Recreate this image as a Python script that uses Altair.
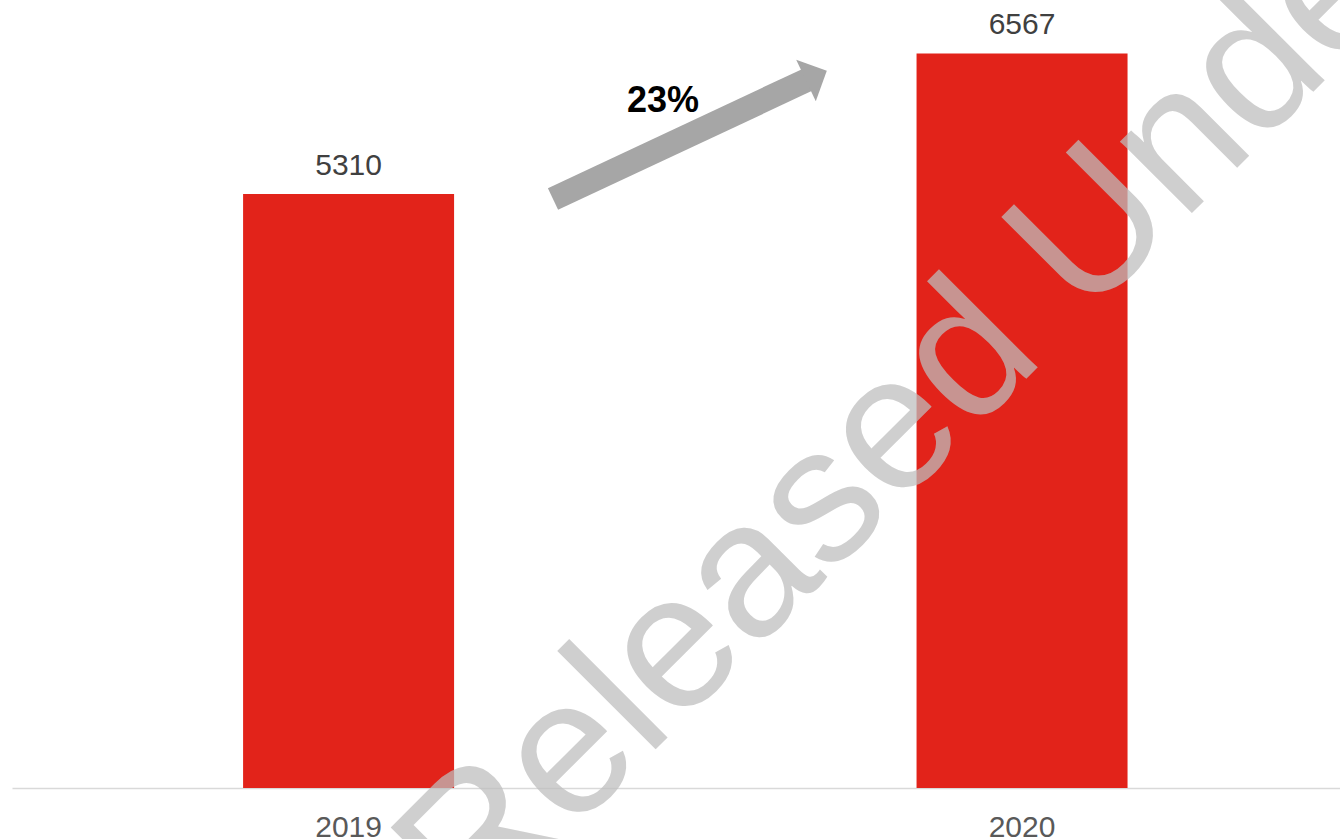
import altair as alt
import pandas as pd

years = ["2019", "2020"]
values = [5310, 6567]
growth_label = ["23%"]
watermark = ["Released Under"]

FONT = "Liberation Sans"
BAR_COLOR = "#e2231a"

df = pd.DataFrame({"year": years, "value": values})

x_enc = alt.X(
    "year:N",
    sort=years,
    title=None,
    scale=alt.Scale(paddingInner=0.6867, paddingOuter=0.3293, align=0.521),
    axis=alt.Axis(
        labelAngle=0,
        labelFont=FONT,
        labelFontSize=30,
        labelColor="#595959",
        labelPadding=24,
        ticks=False,
        domainColor="#d9d9d9",
        domainWidth=1.5,
        grid=False,
    ),
)
y_enc = alt.Y("value:Q", scale=alt.Scale(domain=[0, 7000], nice=False), axis=None)

bars = alt.Chart(df).mark_bar(color=BAR_COLOR).encode(x=x_enc, y=y_enc)

labels = alt.Chart(df).mark_text(
    font=FONT, fontSize=30, color="#404040", baseline="alphabetic", dy=-19
).encode(x=x_enc, y=y_enc, text="value:Q")

arrow_df = pd.DataFrame({"k": [0]})
shaft = alt.Chart(arrow_df).mark_rule(
    color="#a6a6a6", strokeWidth=24, strokeCap="butt"
).encode(
    x=alt.value(541), y=alt.value(194), x2=alt.value(795), y2=alt.value(75)
)
head = alt.Chart(arrow_df).mark_point(
    shape="M 0 -1 L 1 0 L 0 1 Z",
    size=2116,
    angle=334.8,
    filled=True,
    opacity=1,
    strokeWidth=0,
    color="#a6a6a6",
).encode(x=alt.value(794), y=alt.value(75.5))

growth = alt.Chart(pd.DataFrame({"t": growth_label})).mark_text(
    font=FONT, fontSize=36, fontWeight="bold", color="#000000",
    align="center", baseline="alphabetic",
).encode(x=alt.value(651), y=alt.value(107), text="t:N")

wm = alt.Chart(pd.DataFrame({"t": watermark})).mark_text(
    font=FONT, fontSize=192, color="#bebebe", opacity=0.73,
    align="left", baseline="alphabetic", angle=315,
).encode(x=alt.value(461), y=alt.value(927), text="t:N")

chart = (
    alt.layer(bars, labels, shaft, head, growth, wm)
    .properties(
        width=1328,
        height=783,
        background="#ffffff",
        autosize=alt.AutoSizeParams(type="none"),
        padding={"left": 12, "top": 5, "right": 0, "bottom": 51},
    )
    .configure_view(strokeWidth=0, stroke=None)
)

chart.save("out.html", embed_options={"renderer": "svg", "actions": False})
